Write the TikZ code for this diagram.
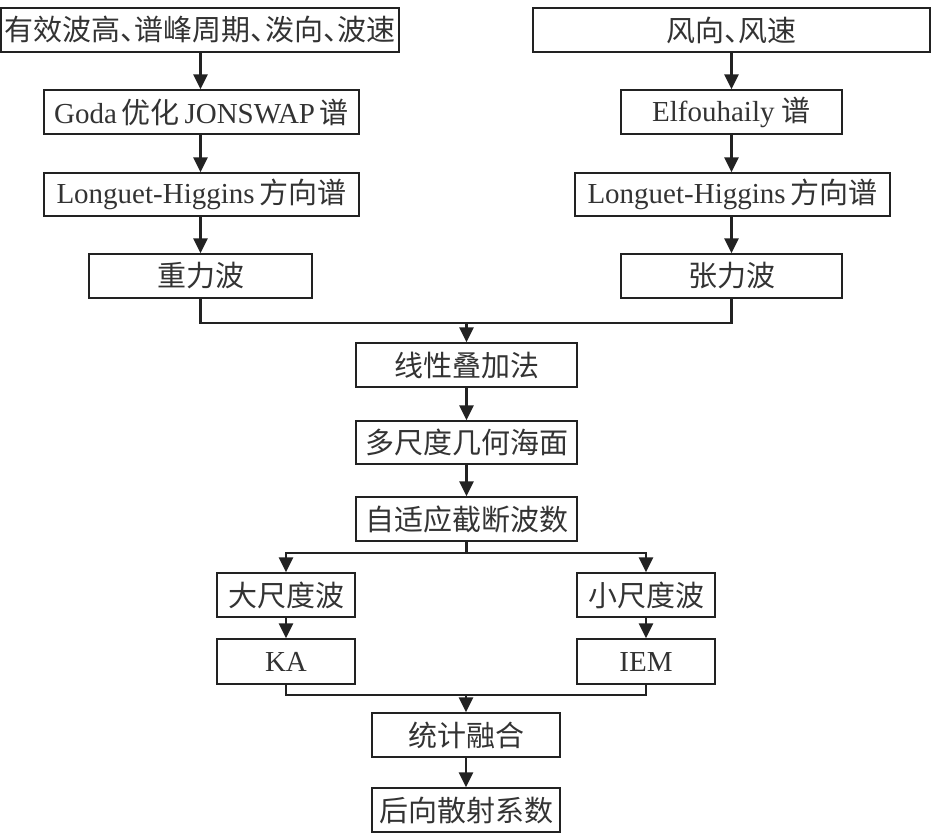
\documentclass[tikz,border=0pt]{standalone}
\usepackage{fontspec}
\setmainfont{Liberation Serif}
\newfontfamily\cjk{Noto Sans CJK SC}
\usetikzlibrary{arrows.meta}
\newcommand\zh[1]{{\cjk #1}}
\newcommand\dun{\makebox[0.5em][l]{\cjk 、}}
\definecolor{txt}{HTML}{333333}
\definecolor{ln}{HTML}{222222}
\tikzset{
  box/.style={draw=ln, line width=1.3pt, inner sep=0pt, minimum height=44pt, text=txt,
    font=\fontsize{29}{32}\selectfont},
  conn/.style={draw=ln, line width=2.8pt},
  arr/.style={conn, -{Triangle[width=14pt,length=15pt]}},
}
\begin{document}
\begin{tikzpicture}[x=1pt,y=-1pt]
\useasboundingbox (0,0) rectangle (931,837);
% left column
\node[box, minimum width=398pt] (inL) at (200,30) {\zh{有效波高}\dun\zh{谱峰周期}\dun\zh{泼向}\dun\zh{波速}};
\node[box, minimum width=315pt] (goda) at (201.5,112) {Goda\,\zh{优化}\,JONSWAP\,\zh{谱}};
\node[box, minimum width=315pt, minimum height=43pt] (lhL) at (201.5,194.5) {Longuet-Higgins\,\zh{方向谱}};
\node[box, minimum width=223pt] (grav) at (200.5,276) {\zh{重力波}};
% right column
\node[box, minimum width=397pt] (inR) at (731.5,30) {\zh{风向}\dun\zh{风速}};
\node[box, minimum width=221pt] (elf) at (731.5,112) {Elfouhaily \zh{谱}};
\node[box, minimum width=315pt, minimum height=43pt] (lhR) at (732.5,194.5) {Longuet-Higgins\,\zh{方向谱}};
\node[box, minimum width=221pt] (tens) at (731.5,276) {\zh{张力波}};
% middle
\node[box, minimum width=221pt] (lin) at (466.5,365) {\zh{线性叠加法}};
\node[box, minimum width=221pt, minimum height=43pt] (multi) at (466.5,442.5) {\zh{多尺度几何海面}};
\node[box, minimum width=221pt] (adapt) at (466.5,519) {\zh{自适应截断波数}};
\node[box, minimum width=138pt] (large) at (286,595) {\zh{大尺度波}};
\node[box, minimum width=138pt] (small) at (646,595) {\zh{小尺度波}};
\node[box, minimum width=138pt, minimum height=45pt] (ka) at (286,661.5) {KA};
\node[box, minimum width=138pt, minimum height=45pt] (iem) at (646,661.5) {IEM};
\node[box, minimum width=188pt] (stat) at (466,735) {\zh{统计融合}};
\node[box, minimum width=188pt] (back) at (466,810) {\zh{后向散射系数}};
% junction coordinates
\coordinate (m1) at (466.5,323);
\coordinate (m2) at (466.5,553);
\coordinate (m3) at (466,695);
% connectors
\draw[arr] (inL.south -| grav) -- (goda.north -| grav);
\draw[arr] (goda.south -| grav) -- (lhL.north -| grav);
\draw[arr] (lhL.south -| grav) -- (grav.north);
\draw[arr] (inR.south -| tens) -- (elf.north -| tens);
\draw[arr] (elf.south -| tens) -- (lhR.north -| tens);
\draw[arr] (lhR.south -| tens) -- (tens.north);
\draw[conn] (grav.south) |- (m1) -| (tens.south);
\draw[arr] (m1) -- (lin.north);
\draw[arr] (lin.south) -- (multi.north);
\draw[arr] (multi.south) -- (adapt.north);
\draw[conn] (adapt.south) -- (m2);
\draw[arr] (m2) -| (large.north);
\draw[arr] (m2) -| (small.north);
\draw[arr] (large.south) -- (ka.north);
\draw[arr] (small.south) -- (iem.north);
\draw[conn] (ka.south) |- (m3) -| (iem.south);
\draw[arr] (m3) -- (stat.north);
\draw[arr] (stat.south) -- (back.north);
\end{tikzpicture}
\end{document}
